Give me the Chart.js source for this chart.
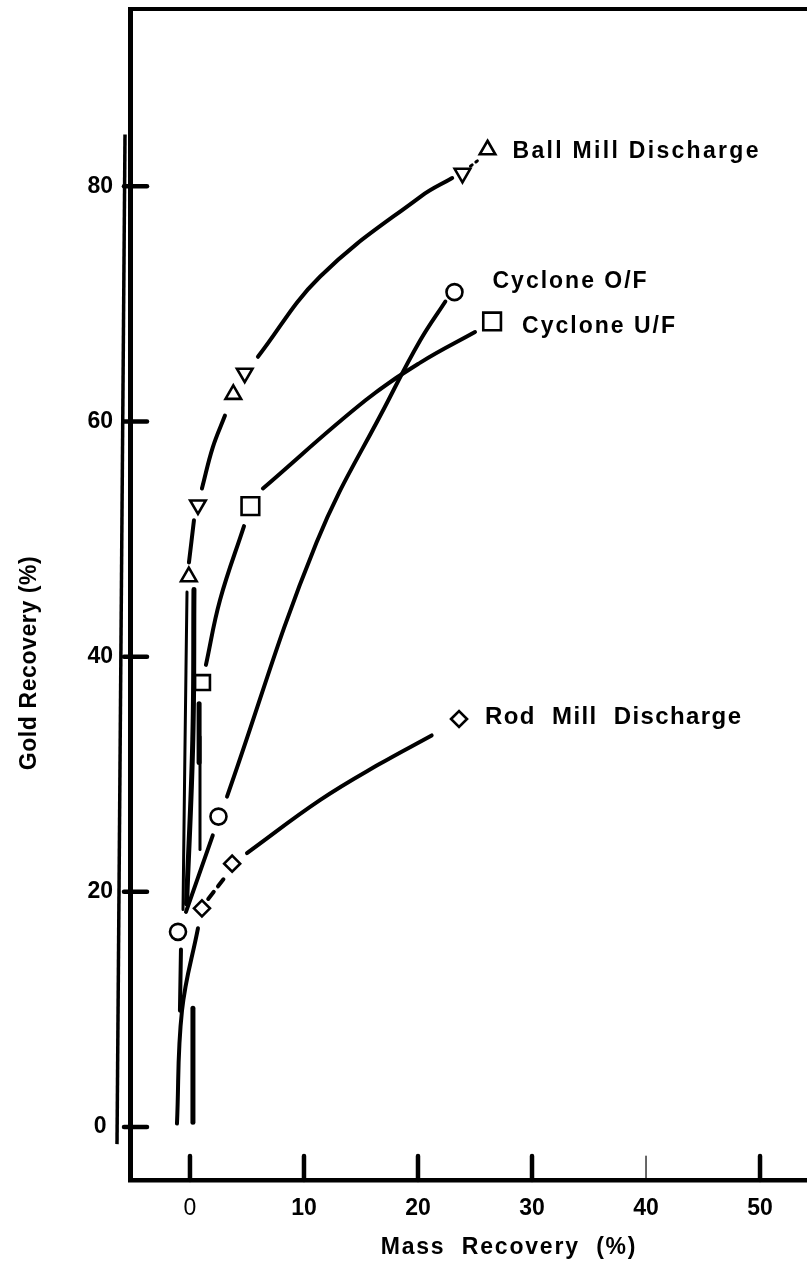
<!DOCTYPE html>
<html>
<head>
<meta charset="utf-8">
<title>Gold Recovery vs Mass Recovery</title>
<script src="https://cdn.jsdelivr.net/npm/chart.js@4.4.1/dist/chart.umd.min.js"></script>
<style>
  html, body { margin: 0; padding: 0; background: #fff; }
  canvas { display: block; }
</style>
</head>
<body>
<canvas id="recoveryChart" width="807" height="1269"></canvas>
<script>
// --- axis ticks ---
const massTicks = [0, 10, 20, 30, 40, 50];
const goldTicks = [0, 20, 40, 60, 80];

// --- measured samples: mass recovery (%) / gold recovery (%) ---
const ballMillMass = [-0.1, 0.7, 3.8, 4.8, 23.9, 26.1];
const ballMillGold = [46.8, 52.9, 62.3, 64.1, 81.1, 83.1];
const ballMillTurn = [0, 180, 0, 180, 180, 0]; // up / down triangles

const cycloneOFMass = [-1.05, 2.5, 23.2];
const cycloneOFGold = [16.6, 26.4, 71.0];

const cycloneUFMass = [1.1, 5.3, 26.5];
const cycloneUFGold = [37.8, 52.8, 68.5];

const rodMillMass = [1.05, 3.7, 23.6];
const rodMillGold = [18.6, 22.4, 34.7];

// --- hand-drawn trend strokes [mass, gold] ---
const ballMillUpper = [[5.96, 65.5], [11.4, 72.3], [20.2, 79.1], [23.0, 80.7]];
const ballMillMid = [[1.05, 54.3], [2.0, 57.8], [3.07, 60.5]];
const ballMillLow = [[-0.09, 48.0], [0.35, 51.6]];
const ballMillTail = [[-0.26, 45.5], [-0.44, 32.1], [-0.61, 18.5]];
const ballMillDots = [[24.6, 81.7], [25.4, 82.3]];

const cycloneUFUpper = [[6.4, 54.3], [15.4, 61.8], [20.2, 65.0], [25.0, 67.6]];
const cycloneUFLower = [[1.4, 39.3], [2.63, 44.8], [4.74, 51.1]];

const cycloneOFMain = [[3.25, 28.1], [11.1, 49.7], [17.4, 61.8], [20.2, 66.9], [22.4, 70.2]];
const cycloneOFLow = [[2.0, 24.8], [-0.35, 18.3]];
const cycloneOFTail = [[-0.79, 15.1], [-0.88, 9.9]];

const rodMillMain = [[5.0, 23.3], [11.4, 27.8], [16.5, 30.8], [21.2, 33.3]];
const rodMillDash = [[1.6, 19.4], [3.2, 21.4]];
const rodMillTail = [[0.7, 16.9], [-0.7, 9.9], [-1.14, 0.3]];

// stray pen strokes near the origin
const penA = [[0.35, 45.7], [0.25, 33.0], [-0.3, 19.0]];
const penB = [[0.88, 33.2], [0.88, 23.6]];
const penB2 = [[0.8, 36.0], [0.8, 31.0]];
const penC = [[0.26, 10.1], [0.26, 0.4]];

const FONT = "'Liberation Sans', Arial, Helvetica, sans-serif";

const toXY = pts => pts.map(([x, y]) => ({ x, y }));

const stroke = (pts, width = 4, dash = []) => ({
    data: toXY(pts),
    showLine: true,
    borderColor: '#000',
    borderWidth: width,
    borderDash: dash,
    borderCapStyle: 'round',
    pointRadius: 0,
    tension: 0.4,
    fill: false
});

const markers = (xs, ys, style, radius, rotation = 0) => ({
    data: xs.map((x, i) => ({ x, y: ys[i] })),
    showLine: false,
    pointStyle: style,
    pointRadius: radius,
    pointRotation: rotation,
    pointBackgroundColor: '#fff',
    pointBorderColor: '#000',
    pointBorderWidth: 2.6
});

// keep the plot area flush with the frame: no extra room for edge labels
const noEdgePadding = s => {
    s.paddingTop = 0;
    s.paddingBottom = 0;
    s.paddingLeft = 0;
    s.paddingRight = 0;
};

// frame, inward ticks, annotations and axis titles
const decorations = {
    id: 'decorations',
    afterDraw(chart) {
        const { ctx, chartArea: a, scales: { x, y } } = chart;
        const line = (x1, y1, x2, y2, w) => {
            ctx.lineWidth = w;
            ctx.beginPath();
            ctx.moveTo(x1, y1);
            ctx.lineTo(x2, y2);
            ctx.stroke();
        };
        ctx.save();
        ctx.strokeStyle = '#000';
        ctx.fillStyle = '#000';

        // top edge of the frame
        line(a.left - 2, a.top, a.right, a.top, 4);
        // doubled left edge
        line(a.left - 5, y.getPixelForValue(84.4), a.left - 13, y.getPixelForValue(-1.45), 3.5);

        ctx.lineCap = 'round';
        goldTicks.forEach(v => {
            const py = y.getPixelForValue(v);
            line(a.left - 6, py, a.left + 17, py, 4.5);
        });
        massTicks.forEach(v => {
            const px = x.getPixelForValue(v);
            line(px, a.bottom, px, a.bottom - 24, v === 40 ? 1.2 : 4.5);
        });

        // series labels next to the last sample of each curve
        ctx.textBaseline = 'middle';
        ctx.textAlign = 'left';
        const label = (text, mass, gold, dx, dy, size, spacing) => {
            ctx.font = `bold ${size}px ${FONT}`;
            ctx.letterSpacing = spacing + 'px';
            ctx.fillText(text, x.getPixelForValue(mass) + dx, y.getPixelForValue(gold) + dy);
        };
        label('Ball Mill Discharge', ballMillMass[5], ballMillGold[5], 25, 2, 23, 2.3);
        label('Cyclone O/F', cycloneOFMass[2], cycloneOFGold[2], 38, -10, 23, 2);
        label('Cyclone U/F', cycloneUFMass[2], cycloneUFGold[2], 30, 5, 23, 2);
        label('Rod  Mill  Discharge', rodMillMass[2], rodMillGold[2], 26, -2, 24, 1.4);

        // axis titles
        ctx.textAlign = 'center';
        ctx.font = `bold 23px ${FONT}`;
        ctx.letterSpacing = '1.8px';
        ctx.fillText('Mass  Recovery  (%)', 509, 1248);

        ctx.translate(30, 663);
        ctx.rotate(-Math.PI / 2);
        ctx.letterSpacing = '0.6px';
        ctx.fillText('Gold Recovery (%)', 0, 0);
        ctx.restore();
    }
};

const ctx = document.getElementById('recoveryChart');
new Chart(ctx, {
    type: 'line',
    data: {
        datasets: [
            markers(ballMillMass, ballMillGold, 'triangle', 9, ballMillTurn),
            markers(cycloneOFMass, cycloneOFGold, 'circle', 8),
            markers(cycloneUFMass, cycloneUFGold, 'rect', [10.5, 12.5, 12.5]),
            markers(rodMillMass, rodMillGold, 'rectRot', 8),

            stroke(ballMillUpper),
            stroke(ballMillMid),
            stroke(ballMillLow),
            stroke(ballMillTail, 3),
            stroke(ballMillDots, 3, [2, 5]),
            stroke(cycloneUFUpper),
            stroke(cycloneUFLower),
            stroke(cycloneOFMain),
            stroke(cycloneOFLow),
            stroke(cycloneOFTail),
            stroke(rodMillMain),
            stroke(rodMillDash, 4, [9, 7]),
            stroke(rodMillTail),
            stroke(penA, 5),
            stroke(penB, 3),
            stroke(penB2, 5),
            stroke(penC, 5)
        ]
    },
    options: {
        responsive: false,
        animation: false,
        devicePixelRatio: 1,
        layout: { autoPadding: false, padding: { top: 9, right: 0, left: 0, bottom: 0 } },
        plugins: {
            legend: { display: false },
            tooltip: { enabled: false }
        },
        scales: {
            x: {
                type: 'linear',
                position: 'bottom',
                min: -5.26,
                max: 54.12,
                afterFit: s => { s.height = 89; noEdgePadding(s); },
                afterBuildTicks: s => { s.ticks = massTicks.map(v => ({ value: v })); },
                grid: { display: false, drawTicks: false },
                border: { display: true, color: '#000', width: 4.5 },
                ticks: {
                    color: '#000',
                    padding: 15,
                    maxRotation: 0,
                    font: c => ({ family: FONT, size: 23, weight: c.tick && c.tick.value === 0 ? 'normal' : 'bold' })
                }
            },
            y: {
                type: 'linear',
                min: -4.5,
                max: 95.07,
                afterFit: s => { s.width = 130; noEdgePadding(s); },
                afterBuildTicks: s => { s.ticks = goldTicks.map(v => ({ value: v })); },
                grid: { display: false, drawTicks: false },
                border: { display: true, color: '#000', width: 5 },
                ticks: {
                    color: '#000',
                    padding: 17,
                    crossAlign: 'center',
                    font: { family: FONT, size: 23, weight: 'bold' }
                }
            }
        }
    },
    plugins: [decorations]
});
</script>
</body>
</html>
